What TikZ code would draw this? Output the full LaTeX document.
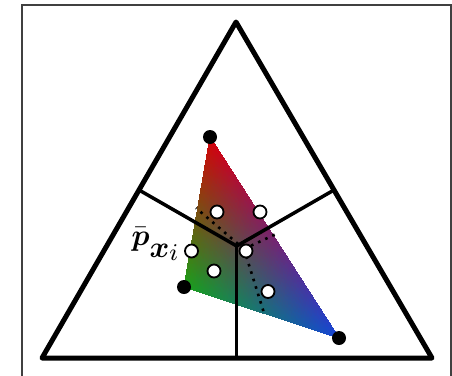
\documentclass[tikz,border=0pt]{standalone}
\usepackage{amsmath}
\usepackage{pgfplots}
\pgfplotsset{compat=1.18}
\begin{document}
\begin{tikzpicture}[x=1pt,y=-1pt,
  bigtri/.style={line width=5pt,line join=round,line cap=round},
  median/.style={line width=3.5pt},
  dotline/.style={line width=2.6pt,dash pattern=on 2.6pt off 5.2pt},
  blackdot/.style={circle,fill=black,inner sep=0pt,minimum size=14pt},
  whitedot/.style={circle,draw=black,fill=white,line width=1.8pt,inner sep=0pt,minimum size=13pt},
  frame/.style={draw=black!75,line width=1.3pt},
  label/.style={anchor=base west,inner sep=0pt,scale=3}]
\useasboundingbox (0,0) rectangle (452,375);
\clip (0,0) rectangle (452,375);
\fill[white] (0,0) rectangle (452,375);
\draw[frame] (22,5) rectangle (451,390);
% shaded triangle
\begin{axis}[hide axis, at={(0pt,0pt)}, anchor=origin, x=1pt, y=1pt,
  disabledatascaling, xmin=0, xmax=452, ymin=-375, ymax=0, clip=false]
\addplot[patch, shader=interp, mesh/color input=explicit] table[meta=c] {
x y c
210 -137 rgb255=215,0,10
184 -287 rgb255=25,160,25
339 -338 rgb255=20,70,215
};
\end{axis}
% big triangle
\coordinate (A) at (236,22);
\coordinate (B) at (42,358);
\coordinate (C) at (432,358);
\coordinate (G) at (236.7,246);
\coordinate (mL) at (139,190);
\coordinate (mR) at (334,190);
\coordinate (mB) at (236.7,358);
\draw[bigtri] (A) -- (B) -- (C) -- cycle;
\draw[median] (G) -- (mL);
\draw[median] (G) -- (mR);
\draw[median] (G) -- (mB);
% dotted region boundaries
\coordinate (J) at (244,249);
\coordinate (dL) at (196,208);
\coordinate (dR) at (276,234);
\coordinate (dB) at (264,313);
\draw[dotline] (J) -- (dL);
\draw[dotline] (J) -- (dR);
\draw[dotline] (J) -- (dB);
% vertices
\node[blackdot] (vr) at (210,137) {};
\node[blackdot] (vg) at (184,287) {};
\node[blackdot] (vb) at (339,338) {};
% samples
\node[whitedot] (w1) at (217,212) {};
\node[whitedot] (w2) at (260,212) {};
\node[whitedot] (w3) at (191.5,251) {};
\node[whitedot] (w4) at (214,271) {};
\node[whitedot] (w5) at (246,251) {};
\node[whitedot] (w6) at (268,291.5) {};
\node[label] (lbl) at (131,245) {$\bar{\boldsymbol{p}}$\raisebox{-4.3pt}{$\boldsymbol{x}$}\raisebox{-5.2pt}{\fontsize{8}{9}\selectfont$i$}};
\end{tikzpicture}
\end{document}
